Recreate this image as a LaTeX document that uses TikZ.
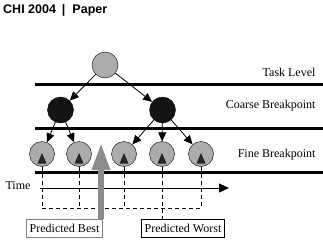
\documentclass[tikz,border=0pt]{standalone}
\usepackage{fontspec}
\setmainfont{Liberation Serif}
\newfontfamily\headfont{Liberation Sans}
\usetikzlibrary{arrows.meta}

\begin{document}
\begin{tikzpicture}[x=1pt,y=-1pt,
    level/.style={line width=3pt},
    task/.style={circle,draw,fill=gray!65,minimum size=26pt,inner sep=0pt},
    coarse/.style={circle,draw,fill=black!92,minimum size=26pt,inner sep=0pt},
    fine/.style={circle,draw,fill=gray!65,minimum size=25pt,inner sep=0pt},
    branch/.style={-{Triangle[length=9pt,width=8pt]},line width=0.8pt},
    lvltext/.style={anchor=east,font=\fontsize{12}{14}\selectfont},
    predbox/.style={draw,line width=0.8pt,font=\fontsize{12}{14}\selectfont,
        minimum height=18pt,inner sep=3pt}]
    \useasboundingbox (0,0) rectangle (323,241);
    \node [anchor=west,inner sep=0pt,font=\headfont\bfseries\fontsize{12.5}{14}\selectfont] (head) at (3,10) {CHI 2004\hspace{6pt}|\hspace{7pt}Paper};
    % levels
    \draw [level] (35,84) -- (323,84);
    \draw [level] (35,128) -- (323,128);
    \draw [level] (35,172) -- (323,172);
    \node [lvltext] (tasklbl) at (319,72) {Task Level};
    \node [lvltext] (coarselbl) at (319,106) {Coarse Breakpoint};
    \node [lvltext] (finelbl) at (319,155) {Fine Breakpoint};
    % tree
    \node [task] (t) at (105,65) {};
    \node [coarse] (c1) at (60.5,110) {};
    \node [coarse] (c2) at (162.5,110) {};
    \foreach \n/\x in {1/42,2/79,3/124,4/162,5/201} {
        \node [fine] (f\n) at (\x,154) {};
        \fill [black!85,shift={(f\n.center)}] (-4.5,9.5) -- (4.5,9.5) -- (0,-1) -- cycle;
    }
    \draw [branch] (t) -- (c1);
    \draw [branch] (t) -- (c2);
    \draw [branch] (c1) -- (f1);
    \draw [branch] (c1) -- (f2);
    \draw [branch] (c2) -- (f3);
    \draw [branch] (c2) -- (f4);
    \draw [branch] (c2) -- (f5);
    % time axis
    \node [anchor=west,font=\fontsize{12}{14}\selectfont] (time) at (2,186) {Time};
    \coordinate (t0) at (40,188);
    \coordinate (t1) at (229,188);
    \draw [-{Triangle[length=10pt,width=9pt]},line width=0.8pt] (t0) -- (t1);
    % predictions
    \node [predbox,draw=gray] (best) at (64.5,228) {Predicted Best};
    \node [predbox] (worst) at (183,228) {Predicted Worst};
    \coordinate (bot) at (0,208);
    \foreach \n in {1,2,3,5}
        \draw [dashed,dash pattern=on 4pt off 3pt] (f\n.south) -- (f\n.south |- bot);
    \draw [dashed,dash pattern=on 4pt off 3pt] (f4.south) -- (f4.south |- worst.north);
    \draw [dashed,dash pattern=on 4pt off 3pt] (f1.south |- bot) -- (f5.south |- bot);
    \coordinate (up) at (101,143);
    \draw [gray!90,line width=6pt,-{Triangle[length=27pt,width=17pt]}] (up |- best.north) -- (up);
\end{tikzpicture}
\end{document}
